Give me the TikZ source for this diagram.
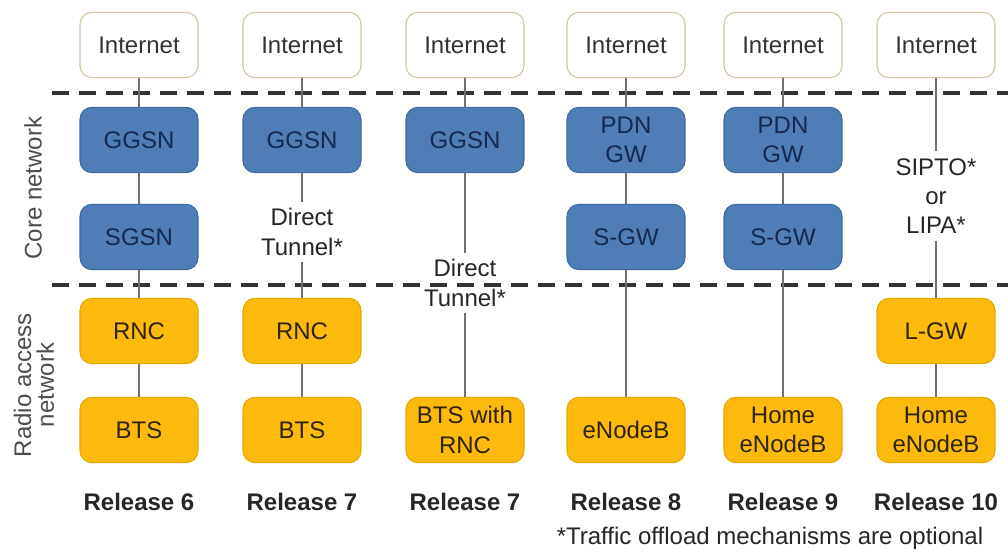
\documentclass[tikz,border=0pt]{standalone}
\usepackage{fontspec}
\setmainfont{Liberation Sans}

\definecolor{corefill}{HTML}{4F7DB8}
\definecolor{coreline}{HTML}{3F6AA0}
\definecolor{corefont}{HTML}{142850}
\definecolor{ranfill}{HTML}{FBBA0C}
\definecolor{ranline}{HTML}{E6A800}
\definecolor{ranfont}{HTML}{2E2410}
\definecolor{netline}{HTML}{D5C3A0}
\definecolor{linkgray}{HTML}{707070}

\tikzset{
    box/.style={rounded corners=9pt, minimum width=88.5pt, minimum height=49pt, align=center,
        inner sep=2pt, line width=0.8pt, font=\fontsize{18}{22}\selectfont},
    inet/.style={box, draw=netline, fill=white, text=black!80},
    core/.style={box, draw=coreline, fill=corefill, text=corefont},
    ran/.style={box, draw=ranline, fill=ranfill, text=ranfont},
    link/.style={draw=linkgray, line width=1.5pt},
    boundary/.style={draw=black!80, line width=2.3pt, dash pattern=on 12.75pt off 7.5pt},
    note/.style={align=center, inner sep=5pt, text=black!85, font=\fontsize{18}{22}\selectfont},
    release/.style={text=black!85, font=\fontsize{18}{22}\selectfont\bfseries},
    side/.style={rotate=90, align=center, text=black!70, font=\fontsize{18}{17}\selectfont},
}

\begin{document}
\begin{tikzpicture}[x=0.75pt, y=-0.75pt]
        \useasboundingbox (0, 0) rectangle (1008, 559);

        % domain boundaries
        \coordinate (b1w) at (52, 93);
        \coordinate (b1e) at (1008, 93);
        \coordinate (b2w) at (52, 285);
        \coordinate (b2e) at (1008, 285);
        \draw[boundary] (b1w) -- (b1e);
        \draw[boundary] (b2w) -- (b2e);

        \node[side] (corelbl) at (33, 188) {Core network};
        \node[side] (ranlbl) at (34, 385) {Radio access\\network};

        % Release 6
        \node[inet] (inet1) at (139, 45) {Internet};
        \node[core] (ggsn1) at (139, 140) {GGSN};
        \node[core] (sgsn1) at (139, 237) {SGSN};
        \node[ran] (rnc1) at (139, 331) {RNC};
        \node[ran] (bts1) at (139, 430) {BTS};

        % Release 7
        \node[inet] (inet2) at (302, 45) {Internet};
        \node[core] (ggsn2) at (302, 140) {GGSN};
        \node[note] (dt2) at (302, 232) {Direct\\Tunnel*};
        \node[ran] (rnc2) at (302, 331) {RNC};
        \node[ran] (bts2) at (302, 430) {BTS};

        % Release 7, BTS with RNC
        \node[inet] (inet3) at (465, 45) {Internet};
        \node[core] (ggsn3) at (465, 140) {GGSN};
        \node[note] (dt3) at (465, 283) {Direct\\Tunnel*};
        \node[ran] (btsrnc3) at (465, 430) {BTS with\\RNC};

        % Release 8
        \node[inet] (inet4) at (626, 45) {Internet};
        \node[core] (pdn4) at (626, 140) {PDN\\GW};
        \node[core] (sgw4) at (626, 237) {S-GW};
        \node[ran] (enb4) at (626, 430) {eNodeB};

        % Release 9
        \node[inet] (inet5) at (783, 45) {Internet};
        \node[core] (pdn5) at (783, 140) {PDN\\GW};
        \node[core] (sgw5) at (783, 237) {S-GW};
        \node[ran] (henb5) at (783, 430) {Home\\eNodeB};

        % Release 10
        \node[inet] (inet6) at (936, 45) {Internet};
        \node[note] (sipto6) at (936, 196) {SIPTO*\\or\\LIPA*};
        \node[ran] (lgw6) at (936, 331) {L-GW};
        \node[ran] (henb6) at (936, 430) {Home\\eNodeB};

        \draw[link] (inet1) -- (ggsn1);
        \draw[link] (ggsn1) -- (sgsn1);
        \draw[link] (sgsn1) -- (rnc1);
        \draw[link] (rnc1) -- (bts1);

        \draw[link] (inet2) -- (ggsn2);
        \draw[link] (ggsn2) -- (dt2);
        \draw[link] (dt2) -- (rnc2);
        \draw[link] (rnc2) -- (bts2);

        \draw[link] (inet3) -- (ggsn3);
        \draw[link] (ggsn3) -- (dt3);
        \draw[link] (dt3) -- (btsrnc3);

        \draw[link] (inet4) -- (pdn4);
        \draw[link] (pdn4) -- (sgw4);
        \draw[link] (sgw4) -- (enb4);

        \draw[link] (inet5) -- (pdn5);
        \draw[link] (pdn5) -- (sgw5);
        \draw[link] (sgw5) -- (henb5);

        \draw[link] (inet6) -- (sipto6);
        \draw[link] (sipto6) -- (lgw6);
        \draw[link] (lgw6) -- (henb6);

        \node[release] (rel6) at (139, 502) {Release 6};
        \node[release] (rel7) at (302, 502) {Release 7};
        \node[release] (rel7b) at (465, 502) {Release 7};
        \node[release] (rel8) at (626, 502) {Release 8};
        \node[release] (rel9) at (783, 502) {Release 9};
        \node[release] (rel10) at (936, 502) {Release 10};

        \node[note] (footnote) at (770, 538) {*Traffic offload mechanisms are optional};
    \end{tikzpicture}
\end{document}
